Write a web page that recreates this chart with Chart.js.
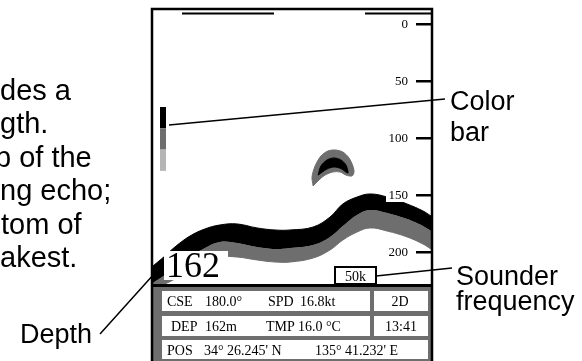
<!DOCTYPE html>
<html>
<head>
<meta charset="utf-8">
<style>
  html, body { margin: 0; padding: 0; background: #fff; }
  canvas { display: block; }
</style>
<script src="https://cdn.jsdelivr.net/npm/chart.js@4.4.1/dist/chart.umd.min.js"></script>
</head>
<body>
<canvas id="chart" width="582" height="361"></canvas>
<script>
// horizontal position across the echogram (0 = left edge, 100 = right edge)
const pingX = [0, 4.3, 7.9, 13.3, 18.7, 24.1, 30.2, 37.4, 43.9, 49.3, 57.6, 63.7, 68.3, 73.4, 78.1, 84.2, 91.4, 97.1, 100];
// bottom echo, depth in metres: strong (black) from top to mid, weaker (gray) from mid to bottom
const bottomTop = [212.3, 203.5, 195.6, 186.0, 179.8, 176.3, 175.4, 178.9, 180.7, 180.7, 178.1, 169.3, 157.9, 151.8, 149.1, 151.8, 157.9, 164.0, 168.4];
const bottomMid = [227.2, 220.2, 214.0, 204.4, 196.5, 191.2, 192.1, 195.6, 197.4, 196.5, 193.9, 186.8, 177.2, 167.5, 163.2, 165.8, 171.1, 177.2, 181.6];
const bottomLow = [233.3, 228.1, 223.7, 215.8, 208.8, 204.4, 204.4, 207.0, 208.8, 208.8, 205.3, 198.2, 189.5, 182.5, 178.9, 181.6, 186.8, 193.0, 197.4];

// fish school echo outline (weak outer, strong inner)
const fishOuterX = [57.6, 57.2, 58.3, 60.4, 62.9, 65.5, 68.3, 70.5, 71.9, 72.3, 71.6, 69.4, 67.3, 64.7, 61.9, 59.7, 57.6];
const fishOuterY = [142.1, 134.2, 124.6, 115.8, 111.4, 110.5, 112.3, 117.5, 124.6, 129.8, 133.3, 132.5, 129.8, 129.8, 132.5, 136.8, 142.1];
const fishInnerX = [59.4, 60.4, 62.6, 65.1, 67.6, 69.4, 70.1, 67.6, 65.1, 62.6, 59.4];
const fishInnerY = [132.5, 124.6, 119.3, 117.5, 119.3, 123.7, 130.7, 126.8, 125.4, 127.2, 132.5];

const depthTicks = [0, 50, 100, 150, 200];
const colorLevels = ['#000000', '#6e6e6e', '#b5b5b5'];

const depthDigits = '162';
const frequency = '50k';
const course = '180.0°';
const speed = '16.8kt';
const depthReading = '162m';
const waterTemp = '16.0 °C';
const fixMode = '2D';
const clock = '13:41';
const latitude = "34° 26.245' N";
const longitude = "135° 41.232' E";

// visible part of the side note (its left part is cut off by the page edge)
const noteLines = ['des a', 'gth.', 'p of the', 'ng echo;', 'tom of', 'akest.'];

const SANS = '"Liberation Sans", Arial, sans-serif';
const SERIF = '"Liberation Serif", "Times New Roman", serif';
const GRAY = '#6e6e6e';

function pts(xs, ys) {
    return xs.map((x, i) => ({ x: x, y: ys[i] }));
}

const overlay = {
    id: 'overlay',
    beforeDraw(chart) {
        const ctx = chart.ctx;
        ctx.save();
        ctx.fillStyle = '#fff';
        ctx.fillRect(0, 0, chart.width, chart.height);
        ctx.restore();
    },
    afterDraw(chart) {
        const ctx = chart.ctx;
        const ys = chart.scales.y;
        const area = chart.chartArea;
        ctx.save();

        // depth scale inside the frame
        ctx.font = '13px ' + SERIF;
        ctx.textAlign = 'right';
        ctx.textBaseline = 'middle';
        depthTicks.forEach(t => {
            const py = Math.round(ys.getPixelForValue(t));
            if (t === 150) {
                ctx.fillStyle = '#fff';
                ctx.fillRect(386, py - 7, 27, 14);
            }
            ctx.fillStyle = '#000';
            ctx.fillText(String(t), 408, py + 1);
            ctx.fillRect(416, py - 1, area.right - 416, 2.5);
        });

        // color bar
        colorLevels.forEach((c, i) => {
            ctx.fillStyle = c;
            ctx.fillRect(160, 107 + i * 21.3, 6, 21.3);
        });

        // depth digits box
        ctx.fillStyle = '#fff';
        ctx.fillRect(164, 251, 64, 29);
        ctx.fillStyle = '#000';
        ctx.font = '36px ' + SERIF;
        ctx.textAlign = 'left';
        ctx.textBaseline = 'alphabetic';
        ctx.fillText(depthDigits, 166, 277);

        // frequency box
        ctx.fillStyle = '#fff';
        ctx.fillRect(335, 267, 41, 17);
        ctx.lineWidth = 2;
        ctx.strokeStyle = '#000';
        ctx.strokeRect(335, 267, 41, 17);
        ctx.fillStyle = '#000';
        ctx.font = '14px ' + SERIF;
        ctx.textAlign = 'center';
        ctx.fillText(frequency, 355.5, 281);

        // info panel
        ctx.fillStyle = '#000';
        ctx.fillRect(151, 284, 282, 3);
        ctx.fillStyle = GRAY;
        ctx.fillRect(153, 287, 278, 80);
        ctx.fillStyle = '#fff';
        ctx.fillRect(162, 291, 208, 20);
        ctx.fillRect(374, 291, 54, 20);
        ctx.fillRect(162, 316, 208, 20);
        ctx.fillRect(374, 316, 54, 20);
        ctx.fillRect(162, 340, 266, 19);

        ctx.fillStyle = '#000';
        ctx.font = '14px ' + SERIF;
        ctx.textAlign = 'left';
        ctx.fillText('CSE', 167, 306);
        ctx.fillText(course, 205, 306);
        ctx.fillText('SPD', 268, 306);
        ctx.fillText(speed, 300, 306);
        ctx.fillText('DEP', 171, 331);
        ctx.fillText(depthReading, 205, 331);
        ctx.fillText('TMP', 266, 331);
        ctx.fillText(waterTemp, 298, 331);
        ctx.fillText('POS', 167, 355);
        ctx.fillText(latitude, 204, 355);
        ctx.fillText(longitude, 315, 355);
        ctx.textAlign = 'center';
        ctx.fillText(fixMode, 400, 306);
        ctx.fillText(clock, 401, 331);

        // display frame
        ctx.strokeStyle = '#000';
        ctx.lineWidth = 2.5;
        ctx.strokeRect(152, 9, 280, 370);
        ctx.lineWidth = 2;
        ctx.beginPath();
        ctx.moveTo(182, 13.5); ctx.lineTo(274, 13.5);
        ctx.moveTo(365, 13.5); ctx.lineTo(431, 13.5);
        ctx.stroke();

        // callout lines
        ctx.lineWidth = 1.5;
        ctx.beginPath();
        ctx.moveTo(169, 125); ctx.lineTo(445, 99);
        ctx.moveTo(376, 276); ctx.lineTo(452, 268);
        ctx.moveTo(100, 334); ctx.lineTo(163, 264);
        ctx.stroke();

        // callout labels
        ctx.font = '27px ' + SANS;
        ctx.textAlign = 'left';
        ctx.fillText('Color', 450, 110);
        ctx.fillText('bar', 450, 141);
        ctx.fillText('Sounder', 456, 285);
        ctx.fillText('frequency', 456, 310);
        ctx.textAlign = 'right';
        ctx.fillText('Depth', 92, 343);

        // side note
        ctx.font = '29px ' + SANS;
        ctx.textAlign = 'left';
        const visibleStart = [0, 0, -5, 0, 1, 0];
        noteLines.forEach((s, i) => {
            ctx.fillText(s, visibleStart[i], 100 + i * 33.4);
        });

        ctx.restore();
    }
};

new Chart(
    document.getElementById('chart'),
    {
        type: 'line',
        data: {
            datasets: [
                {
                    data: pts(fishInnerX, fishInnerY),
                    order: 0,
                    fill: 'shape',
                    tension: 0.3,
                    backgroundColor: '#000',
                    borderColor: '#000',
                    borderWidth: 1
                },
                {
                    data: pts(fishOuterX, fishOuterY),
                    order: 1,
                    fill: 'shape',
                    tension: 0.3,
                    backgroundColor: GRAY,
                    borderColor: GRAY,
                    borderWidth: 1
                },
                {
                    data: pts(pingX, bottomTop),
                    order: 2,
                    fill: '+1',
                    tension: 0.4,
                    backgroundColor: '#000',
                    borderColor: '#000',
                    borderWidth: 1
                },
                {
                    data: pts(pingX, bottomMid),
                    order: 2,
                    fill: '+1',
                    tension: 0.4,
                    backgroundColor: GRAY,
                    borderColor: GRAY,
                    borderWidth: 0
                },
                {
                    data: pts(pingX, bottomLow),
                    order: 2,
                    fill: false,
                    tension: 0.4,
                    borderColor: GRAY,
                    borderWidth: 1
                }
            ]
        },
        options: {
            responsive: false,
            animation: false,
            layout: {
                padding: { left: 153, right: 151, top: 10, bottom: 77 }
            },
            elements: {
                point: { radius: 0 }
            },
            plugins: {
                legend: { display: false },
                tooltip: { enabled: false }
            },
            scales: {
                x: { type: 'linear', min: 0, max: 100, display: false },
                y: { type: 'linear', min: -12.3, max: 228.1, reverse: true, display: false }
            }
        },
        plugins: [overlay]
    }
);
</script>
</body>
</html>
